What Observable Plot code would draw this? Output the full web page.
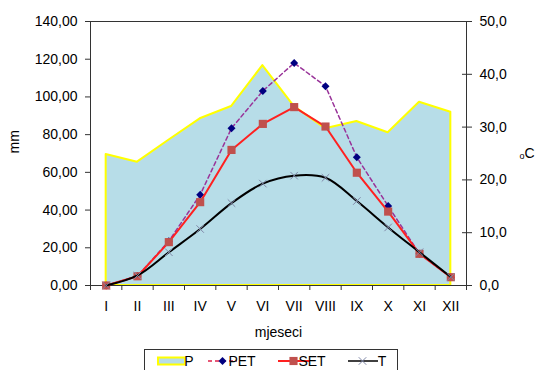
<!DOCTYPE html>
<html><head><meta charset="utf-8">
<script src="https://cdn.jsdelivr.net/npm/d3@7"></script>
<script src="https://cdn.jsdelivr.net/npm/@observablehq/plot@0.6"></script>
<style>
body{margin:0;background:#fff;}
svg{font-family:"Liberation Sans",Arial,sans-serif;}
</style>
</head><body><div id="chart"></div>
<script>
const months = ["I","II","III","IV","V","VI","VII","VIII","IX","X","XI","XII"];
const P   = [69.5,65.4,77.0,88.4,94.9,116.6,95.0,83.1,87.0,81.0,97.2,91.9];
const PET = [0,5.0,23.5,48.1,83.4,103.2,118.0,105.7,68.0,42.1,16.8,4.4];
const SET = [0,4.9,23.0,44.2,71.9,85.7,94.6,84.3,59.8,39.2,16.8,4.4];
const T   = [0,1.9,6.3,10.7,15.6,19.3,20.8,20.4,16.0,11.0,6.3,1.6];
const leftTicks = [0,20,40,60,80,100,120,140];
const rightTicks = [0,10,20,30,40,50];
const legendItems = ["P","PET","SET","T"];

const K = 140/50;
const rows = months.map((m,i)=>({i:i+1, m, P:P[i], PET:PET[i], SET:SET[i], T:T[i]*K}));
const fmt2 = d => d.toFixed(2).replace(".",",");
const fmt1 = d => (d/K).toFixed(1).replace(".",",");
const bounds = d3.range(0.5, 13, 1);
const centers = d3.range(1, 13, 1);

const COL = {area:"#b7dde8", yellow:"#ffff00", pet:"#993399", petLeg:"#e0204a", petDot:"#000080", set:"#ff2020", setDot:"#c0504d", t:"#000000", tDot:"#8088a8"};

const plot = Plot.plot({
  width:535, height:370,
  marginLeft:90, marginRight:69, marginTop:21, marginBottom:85,
  style:{fontFamily:'"Liberation Sans",Arial,sans-serif', fontSize:"14px", color:"#000", background:"#fff", overflow:"visible"},
  x:{type:"linear", domain:[0.5,12.5]},
  y:{domain:[0,140]},
  marks:[
    Plot.areaY(rows,{x:"i", y:"P", fill:COL.area, stroke:COL.yellow, strokeWidth:2}),
    Plot.frame({stroke:"#333"}),
    Plot.line(rows,{x:"i", y:"PET", stroke:COL.pet, strokeDasharray:"4,3", strokeWidth:1.5}),
    Plot.dot(rows,{x:"i", y:"PET", symbol:"diamond2", r:3.6, fill:COL.petDot}),
    Plot.line(rows,{x:"i", y:"SET", stroke:COL.set, strokeWidth:2}),
    Plot.dot(rows,{x:"i", y:"SET", symbol:"square", r:4.6, fill:COL.setDot}),
    Plot.line(rows,{x:"i", y:"T", stroke:COL.t, strokeWidth:2, curve:"catmull-rom"}),
    Plot.dot(rows,{x:"i", y:"T", symbol:"times", r:3.5, stroke:COL.tDot, strokeWidth:1}),
    Plot.axisY({anchor:"left", ticks:leftTicks, tickFormat:fmt2, tickSize:5, tickPadding:8, label:null, stroke:"#333"}),
    Plot.axisY({anchor:"right", ticks:rightTicks.map(v=>v*K), tickFormat:fmt1, tickSize:5, tickPadding:8, label:null, stroke:"#333"}),
    Plot.axisY({anchor:"right", ticks:rightTicks.map(v=>v*K), tickFormat:()=>"", tickSize:-5, label:null, stroke:"#333"}),
    Plot.axisX({ticks:bounds, tickFormat:()=>"", tickSize:5, label:null, stroke:"#333"}),
    Plot.axisX({ticks:centers, tickFormat:i=>months[i-1], tickSize:0, tickPadding:16, label:null}),
    Plot.text(["mm"],{frameAnchor:"left", dx:-76, rotate:-90, fontSize:14}),
    Plot.text(["mjeseci"],{frameAnchor:"bottom", dy:51, fontSize:14}),
    Plot.text(["o"],{frameAnchor:"right", dx:53, dy:3, fontSize:9, textAnchor:"start"}),
    Plot.text(["C"],{frameAnchor:"right", dx:58, dy:0, fontSize:14, textAnchor:"start"})
  ]
});
document.getElementById("chart").appendChild(plot);

// legend
const svg = d3.select(plot);
const lg = svg.append("g").attr("font-size",14).attr("font-family",'"Liberation Sans",Arial,sans-serif');
lg.append("rect").attr("x",144.5).attr("y",349.5).attr("width",253).attr("height",30).attr("fill","#fff").attr("stroke","#333");
const cy = 361;
// P
lg.append("rect").attr("x",158).attr("y",cy-3.5).attr("width",27).attr("height",7).attr("fill",COL.area).attr("stroke",COL.yellow).attr("stroke-width",2);
// PET
lg.append("line").attr("x1",208).attr("x2",237).attr("y1",cy).attr("y2",cy).attr("stroke",COL.petLeg).attr("stroke-width",1.5).attr("stroke-dasharray","4,3");
lg.append("path").attr("d",d3.symbol(d3.symbolDiamond2, 3.6*3.6*Math.PI)()).attr("transform",`translate(222.5,${cy})`).attr("fill",COL.petDot);
// SET
lg.append("line").attr("x1",278).attr("x2",310).attr("y1",cy).attr("y2",cy).attr("stroke",COL.set).attr("stroke-width",2);
lg.append("path").attr("d",d3.symbol(d3.symbolSquare, 4.6*4.6*Math.PI)()).attr("transform",`translate(293.5,${cy})`).attr("fill",COL.setDot);
// T
lg.append("line").attr("x1",348).attr("x2",378).attr("y1",cy).attr("y2",cy).attr("stroke",COL.t).attr("stroke-width",1.5);
lg.append("path").attr("d",d3.symbol(d3.symbolTimes, 3.5*3.5*Math.PI)()).attr("transform",`translate(362.5,${cy})`).attr("fill","none").attr("stroke",COL.tDot);
const tx = [189, 242, 312, 382];
legendItems.forEach((s,k)=>{
  lg.append("text").attr("x",tx[k]).attr("y",cy).attr("dy","0.35em").text(s);
});
</script>
</body></html>
